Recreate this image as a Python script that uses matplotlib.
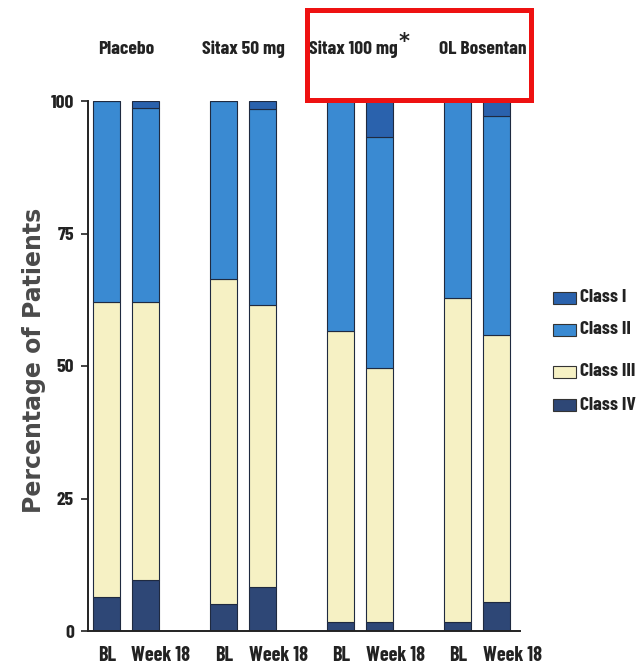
import matplotlib
matplotlib.use("Agg")
import matplotlib.pyplot as plt
from matplotlib.patches import Rectangle
from matplotlib.transforms import ScaledTranslation

# --- data -------------------------------------------------------------
groups = ["Placebo", "Sitax 50 mg", "Sitax 100 mg", "OL Bosentan"]
timepoints = ["BL", "Week 18"]
classes = ["Class I", "Class II", "Class III", "Class IV"]

# percentage of patients per NYHA class, order: Placebo BL, Placebo W18, ...
class_iv = [6.4, 9.6, 5.1, 8.3, 1.7, 1.7, 1.7, 5.5]
class_iii = [55.6, 52.4, 61.3, 53.2, 54.9, 47.9, 61.1, 50.3]
class_ii = [38.0, 36.6, 33.6, 37.0, 43.4, 43.6, 37.2, 41.4]
class_i = [0.0, 1.4, 0.0, 1.5, 0.0, 6.8, 0.0, 2.8]

colors = {
    "Class I": "#2a62ad",
    "Class II": "#3a8ad2",
    "Class III": "#f6f1c4",
    "Class IV": "#2e4776",
}

cond = ["Barlow Condensed", "Roboto Condensed", "DejaVu Sans"]
ink = "#222222"

W, H = 636, 672
fig = plt.figure(figsize=(W / 100, H / 100), dpi=100)
fig.patch.set_facecolor("white")

x_left, x_right, y_bot, y_top = 88, 520, 631, 101
ax = fig.add_axes([x_left / W, 1 - y_bot / H, (x_right - x_left) / W, (y_bot - y_top) / H])

positions = [3 * g + t for g in range(len(groups)) for t in range(len(timepoints))]
width = 0.69

bottom = [0.0] * len(positions)
for name, vals in [("Class IV", class_iv), ("Class III", class_iii),
                   ("Class II", class_ii), ("Class I", class_i)]:
    ax.bar(positions, vals, width=width, bottom=bottom, color=colors[name],
           edgecolor="#1f2a40", linewidth=0.8, zorder=2)
    bottom = [b + v for b, v in zip(bottom, vals)]

ax.set_xlim(-0.474, 10.6)
ax.set_ylim(0, 100)

for s in ["top", "right"]:
    ax.spines[s].set_visible(False)
for s in ["left", "bottom"]:
    ax.spines[s].set_linewidth(1.4)
    ax.spines[s].set_color(ink)

ax.set_yticks([0, 25, 50, 75, 100])
ax.set_yticklabels(["0", "25", "50", "75", "100"], fontfamily=cond,
                   fontweight="bold", fontsize=14, color=ink)
ax.tick_params(axis="y", length=5, width=1.2, pad=5, color=ink)

ax.set_xticks(positions)
ax.set_xticklabels(timepoints * len(groups), fontfamily=cond,
                   fontweight="bold", fontsize=14.5, color=ink)
ax.tick_params(axis="x", length=0, pad=11)
# "Week 18" labels sit a little to the right of their bars
for i, lab in enumerate(ax.get_xticklabels()):
    dx = 11.2 / 72 if i % 2 else 0.4 / 72
    lab.set_transform(lab.get_transform() + ScaledTranslation(dx, 0, fig.dpi_scale_trans))

ax.set_ylabel("Percentage of Patients", fontfamily="DejaVu Sans",
              fontweight="bold", fontsize=17, color="#4a4a4a")
ax.yaxis.set_label_coords(-0.098, 0.51)

# group headings above the bars
head_x = [0.5, 3.5, 6.32, 9.65]
for gx, label in zip(head_x, groups):
    ax.text(gx, 1.098, label, transform=ax.get_xaxis_transform(), ha="center",
            va="center", fontfamily=cond, fontweight="bold", fontsize=14,
            color=ink)
ax.text(7.62, 1.112, "*", transform=ax.get_xaxis_transform(), ha="center",
        va="center", fontfamily="DejaVu Sans", fontweight="bold",
        fontsize=15, color=ink)

# highlight box around the two right-hand headings
fig.patches.append(Rectangle((307 / W, 1 - 100 / H), (531 - 307) / W, (100 - 10) / H,
                             transform=fig.transFigure, fill=False,
                             edgecolor="#ee1111", linewidth=3.6))

# legend
leg_y = [298, 330, 372, 405]
for name, ly in zip(classes, leg_y):
    fig.patches.append(Rectangle((553 / W, 1 - (ly + 6) / H), 23 / W, 12 / H,
                                 transform=fig.transFigure,
                                 facecolor=colors[name], edgecolor="#333333",
                                 linewidth=0.8))
    fig.text(580 / W, 1 - ly / H, name, ha="left", va="center",
             fontfamily=cond, fontweight="bold", fontsize=14, color=ink)

fig.savefig("out.png", dpi=100, facecolor="white")
